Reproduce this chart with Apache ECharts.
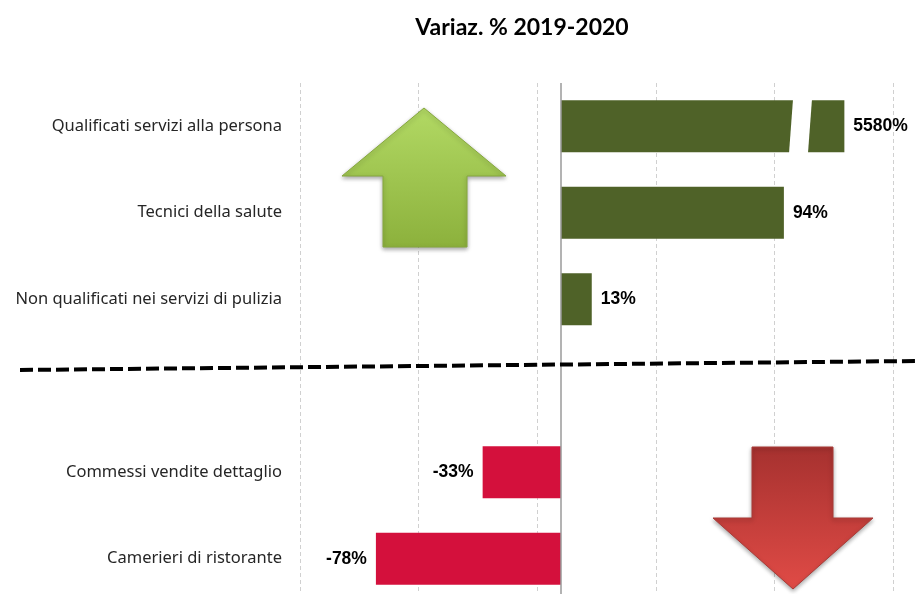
<!DOCTYPE html>
<html>
<head>
<meta charset="utf-8">
<script src="https://cdn.jsdelivr.net/npm/echarts@6/dist/echarts.min.js"></script>
<style>
  html, body { margin: 0; padding: 0; background: #fff; }
  #chart { width: 915px; height: 594px; }
</style>
</head>
<body>
<div id="chart"></div>
<script>
// categories top to bottom, '' is the spacer row under the dashed separator
const categories = [
  'Qualificati servizi alla persona',
  'Tecnici della salute',
  'Non qualificati nei servizi di pulizia',
  '',
  'Commessi vendite dettaglio',
  'Camerieri di ristorante'
]
const values = [5580, 94, 13, null, -33, -78]

// value axis: ticks every 50 starting at -110
const axisMin = -110
const axisMax = 140
const axisStep = 50
// off-scale bars are cut: drawn to breakEnd with a gap between breakFrom and breakTo
const breakFrom = 97
const breakTo = 105
const breakEnd = 119.5

const green = '#4f6228'
const red = '#d4103c'

let chartDom = document.getElementById('chart')
let myChart = echarts.init(chartDom)

let barData = values.map(function (v) {
  if (v == null) return null
  return {
    value: v > axisMax ? breakEnd : v,
    itemStyle: {color: v >= 0 ? green : red},
    label: {position: v >= 0 ? 'right' : 'left'}
  }
})

let breakData = []
values.forEach(function (v, i) {
  if (v != null && v > axisMax) breakData.push([breakFrom, i])
})

let option = {
  animation: false,
  title: {
    text: 'Variaz. % 2019-2020',
    left: 517,
    top: 11,
    textAlign: 'center',
    textStyle: {fontFamily: 'Lato', fontWeight: 'bold', fontSize: 23, color: '#000'}
  },
  grid: {left: 300, right: 22, top: 83, height: 519, outerBoundsMode: 'none'},
  xAxis: {
    type: 'value',
    min: axisMin,
    max: axisMax,
    interval: axisStep,
    axisLabel: {show: false},
    axisTick: {show: false},
    axisLine: {show: false},
    splitLine: {show: true, lineStyle: {color: '#d0d0d0', type: [4, 3], width: 1}}
  },
  yAxis: {
    type: 'category',
    inverse: true,
    data: categories,
    axisLine: {show: false},
    axisTick: {show: false},
    axisLabel: {margin: 18, fontFamily: 'Noto Sans', fontSize: 16.5, color: '#262626'}
  },
  series: [
    {
      type: 'bar',
      barWidth: 52,
      data: barData,
      label: {
        show: true,
        distance: 9,
        fontFamily: 'Liberation Sans',
        fontWeight: 'bold',
        fontSize: 17.5,
        color: '#000',
        formatter: function (p) {
          return values[p.dataIndex] + '%'
        }
      },
      markLine: {
        silent: true,
        symbol: 'none',
        label: {show: false},
        lineStyle: {color: '#9a9a9a', type: 'solid', width: 1.5},
        data: [{xAxis: 0}]
      }
    },
    {
      // white slanted gap drawn across the cut bars
      type: 'custom',
      silent: true,
      z: 3,
      data: breakData,
      renderItem: function (params, api) {
        let y = api.coord([0, api.value(1)])[1]
        let x0 = api.coord([api.value(0), 0])[0]
        let x1 = api.coord([breakTo, 0])[0]
        let h = 52 / 2 + 1
        return {
          type: 'polygon',
          shape: {
            points: [
              [x0 + 2, y - h], [x1 + 2, y - h],
              [x1 - 2, y + h], [x0 - 2, y + h]
            ]
          },
          style: {fill: '#fff'}
        }
      }
    }
  ],
  graphic: [
    {
      type: 'polygon',
      z: 10,
      shape: {
        points: [[424, 108], [506, 176], [467, 176], [467, 247], [383, 247], [383, 176], [342, 176]]
      },
      style: {
        fill: new echarts.graphic.LinearGradient(0, 0, 0, 1, [
          {offset: 0, color: '#b2d964'},
          {offset: 1, color: '#8cb13c'}
        ]),
        stroke: '#86a83e',
        lineWidth: 1,
        shadowBlur: 4,
        shadowOffsetY: 2,
        shadowColor: 'rgba(0,0,0,0.35)'
      }
    },
    {
      type: 'polygon',
      z: 10,
      shape: {
        points: [[752, 447], [833, 447], [833, 518], [873, 518], [793, 589], [713, 518], [752, 518]]
      },
      style: {
        fill: new echarts.graphic.LinearGradient(0, 0, 0, 1, [
          {offset: 0, color: '#a6312f'},
          {offset: 1, color: '#e04b46'}
        ]),
        stroke: '#a83a36',
        lineWidth: 1,
        shadowBlur: 4,
        shadowOffsetY: 2,
        shadowColor: 'rgba(0,0,0,0.35)'
      }
    },
    {
      // separator between increases and decreases
      type: 'line',
      z: 20,
      shape: {x1: 20, y1: 370, x2: 915, y2: 361},
      style: {stroke: '#000', lineWidth: 4, lineDash: [13, 5]}
    }
  ]
}
myChart.setOption(option)
</script>
</body>
</html>
